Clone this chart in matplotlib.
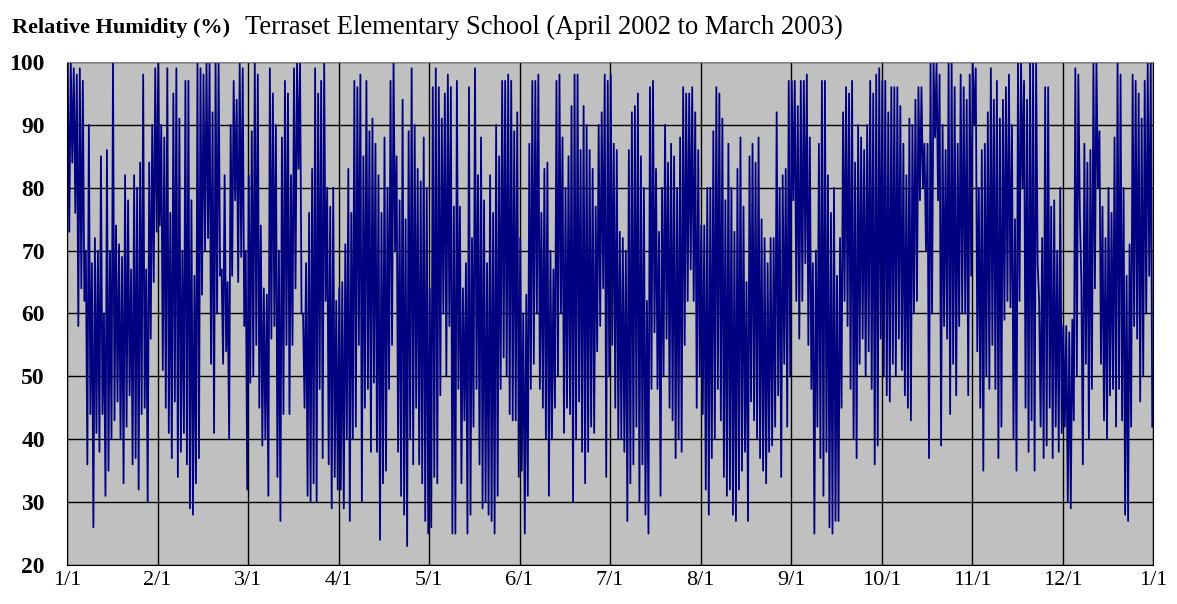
import numpy as np
import matplotlib
matplotlib.use("Agg")
import matplotlib.pyplot as plt

# daily high / low relative humidity (%), 30 days per tick interval
jan_hi = [100, 100, 99, 98, 99, 97, 70, 90, 68, 72, 70, 85, 60, 86, 70, 100, 74, 71, 69, 82, 78, 67, 82, 80, 84, 98, 67, 84, 90, 99]
jan_lo = [73, 84, 76, 58, 64, 62, 36, 44, 26, 41, 38, 44, 31, 35, 40, 43, 46, 40, 33, 42, 47, 36, 37, 32, 44, 45, 30, 56, 65, 73]
feb_hi = [100, 90, 88, 99, 76, 95, 99, 91, 70, 97, 97, 78, 66, 100, 99, 98, 100, 100, 92, 100, 100, 67, 82, 65, 90, 97, 94, 100, 99, 70]
feb_lo = [74, 51, 45, 41, 37, 46, 34, 38, 41, 36, 29, 28, 33, 37, 63, 70, 72, 52, 41, 60, 66, 52, 54, 40, 66, 78, 65, 69, 58, 32]
mar_hi = [82, 89, 100, 98, 74, 64, 63, 99, 95, 90, 70, 88, 97, 95, 82, 99, 100, 100, 60, 68, 76, 83, 99, 95, 97, 100, 80, 77, 80, 62]
mar_lo = [49, 50, 55, 45, 39, 40, 31, 56, 58, 34, 27, 44, 55, 44, 55, 64, 83, 60, 45, 31, 30, 33, 30, 48, 37, 62, 36, 29, 34, 32]
apr_hi = [64, 65, 71, 83, 76, 97, 96, 98, 85, 97, 89, 91, 87, 82, 76, 88, 80, 97, 100, 85, 78, 94, 75, 89, 99, 90, 83, 81, 88, 80]
apr_lo = [32, 29, 40, 27, 40, 42, 55, 30, 45, 48, 38, 49, 38, 24, 33, 35, 48, 55, 70, 38, 31, 28, 23, 40, 36, 45, 36, 33, 27, 25]
may_hi = [64, 96, 99, 96, 91, 95, 98, 96, 77, 97, 77, 64, 68, 96, 72, 99, 82, 88, 78, 68, 82, 76, 90, 85, 97, 97, 98, 97, 89, 92]
may_lo = [26, 34, 33, 47, 60, 50, 58, 25, 25, 48, 33, 43, 25, 28, 42, 48, 36, 29, 30, 28, 27, 25, 31, 48, 53, 50, 44, 43, 43, 34]
jun_hi = [72, 60, 63, 87, 97, 97, 98, 76, 83, 84, 70, 67, 97, 98, 88, 80, 85, 93, 98, 98, 86, 93, 90, 86, 83, 77, 90, 92, 98, 97]
jun_lo = [35, 25, 31, 48, 52, 60, 48, 45, 40, 31, 40, 45, 50, 60, 41, 45, 44, 30, 40, 46, 38, 33, 38, 42, 41, 54, 58, 64, 34, 50]
jul_hi = [98, 87, 86, 73, 72, 70, 86, 92, 93, 95, 85, 80, 62, 96, 97, 83, 73, 80, 90, 84, 87, 85, 80, 88, 96, 95, 95, 96, 92, 86]
jul_lo = [55, 45, 40, 40, 38, 27, 33, 36, 42, 30, 36, 28, 25, 48, 57, 48, 31, 50, 56, 45, 43, 37, 40, 38, 55, 62, 67, 62, 45, 50]
aug_hi = [74, 74, 80, 80, 89, 96, 95, 91, 78, 87, 80, 73, 83, 88, 77, 65, 85, 87, 84, 88, 75, 72, 68, 72, 72, 92, 80, 82, 83, 97]
aug_lo = [44, 32, 28, 37, 40, 48, 43, 34, 31, 32, 28, 27, 32, 35, 38, 27, 46, 43, 40, 37, 35, 33, 38, 39, 42, 47, 34, 52, 42, 50]
sep_hi = [97, 97, 93, 97, 97, 98, 88, 68, 70, 87, 97, 97, 82, 76, 80, 66, 72, 92, 96, 95, 97, 84, 90, 88, 86, 90, 97, 95, 98, 99]
sep_lo = [78, 62, 56, 62, 68, 55, 48, 25, 42, 37, 31, 38, 26, 25, 27, 27, 45, 62, 58, 48, 40, 37, 52, 56, 50, 54, 48, 36, 39, 56]
oct_hi = [97, 97, 92, 96, 96, 96, 93, 87, 82, 91, 90, 94, 96, 96, 87, 87, 100, 100, 100, 98, 90, 86, 100, 100, 96, 87, 98, 96, 94, 98]
oct_lo = [50, 47, 46, 52, 50, 56, 51, 47, 45, 43, 60, 62, 78, 80, 70, 37, 60, 88, 78, 39, 58, 56, 44, 52, 47, 58, 60, 60, 47, 66]
nov_hi = [100, 99, 80, 86, 87, 92, 99, 94, 97, 91, 94, 96, 98, 90, 75, 100, 100, 97, 94, 100, 100, 100, 62, 72, 96, 96, 77, 78, 70, 80]
nov_lo = [90, 54, 45, 35, 50, 48, 55, 48, 37, 42, 59, 62, 61, 40, 35, 62, 80, 45, 38, 43, 35, 68, 42, 37, 39, 45, 37, 42, 38, 41]
dec_hi = [58, 58, 57, 59, 99, 98, 65, 87, 84, 86, 100, 100, 89, 77, 72, 80, 76, 88, 100, 98, 80, 66, 71, 98, 97, 95, 91, 97, 100, 100]
dec_lo = [42, 30, 29, 43, 50, 76, 36, 52, 40, 48, 64, 80, 52, 43, 40, 47, 48, 42, 48, 43, 28, 27, 42, 58, 56, 46, 50, 60, 66, 42]

tick_labels = ["1/1", "2/1", "3/1", "4/1", "5/1", "6/1", "7/1",
               "8/1", "9/1", "10/1", "11/1", "12/1", "1/1"]
y_ticks = [20, 30, 40, 50, 60, 70, 80, 90, 100]

highs = jan_hi + feb_hi + mar_hi + apr_hi + may_hi + jun_hi + jul_hi + aug_hi + sep_hi + oct_hi + nov_hi + dec_hi
lows = jan_lo + feb_lo + mar_lo + apr_lo + may_lo + jun_lo + jul_lo + aug_lo + sep_lo + oct_lo + nov_lo + dec_lo
ndays = len(highs)

# alternate high and low for each day
rh = np.empty(2 * ndays)
rh[0::2] = highs
rh[1::2] = lows
t = np.arange(2 * ndays) * 0.5 + 0.25

plt.rcParams['font.family'] = ['Liberation Serif', 'DejaVu Serif']

fig = plt.figure(figsize=(11.77, 6.04), dpi=100)
ax = fig.add_axes([67 / 1177, 1 - 565 / 604, (1153 - 67) / 1177, (565 - 62) / 604])
ax.set_facecolor('#c0c0c0')

ax.plot(t, rh, color='#000080', lw=1.3)

ax.set_xlim(0, ndays)
ax.set_ylim(20, 100)
ax.set_xticks(np.linspace(0, ndays, len(tick_labels)))
ax.set_xticklabels(tick_labels, fontsize=16)
ax.set_yticks(y_ticks)
ax.set_yticklabels([str(v) for v in y_ticks], fontsize=17, fontweight='bold')
ax.tick_params(axis='both', length=0)
ax.tick_params(axis='y', pad=16)
ax.tick_params(axis='x', pad=4)
ax.grid(True, color='black', lw=1.0)
ax.set_axisbelow(True)
for side in ['left', 'bottom', 'right']:
    ax.spines[side].set_color('black')
ax.spines['top'].set_color('#808080')

fig.text(12 / 1177, 1 - 33 / 604, "Relative Humidity (%)", fontsize=16, fontweight='bold', va='baseline')
fig.text(245 / 1177, 1 - 34 / 604, "Terraset Elementary School (April 2002 to March 2003)", fontsize=19.2, va='baseline')

fig.savefig('out.png', dpi=100)
